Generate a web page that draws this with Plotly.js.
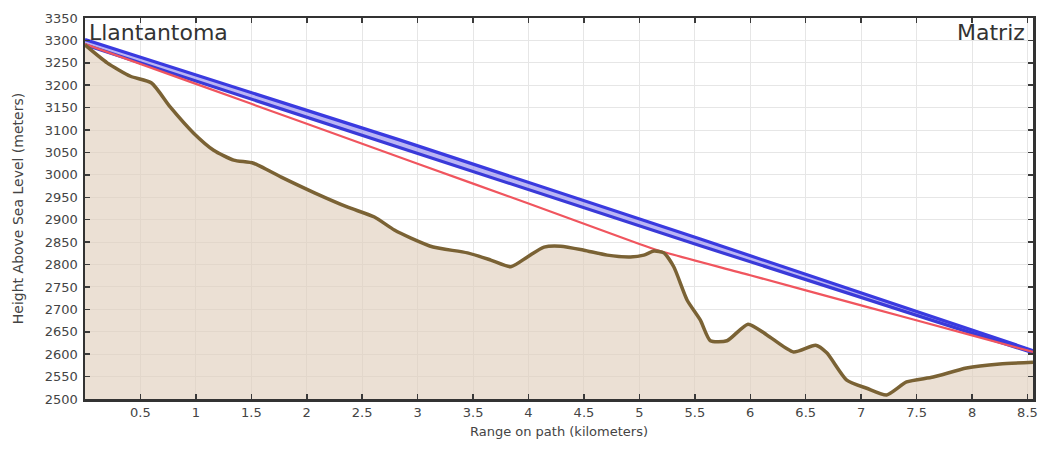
<!DOCTYPE html>
<html>
<head>
<meta charset="utf-8">
<script src="https://cdn.plot.ly/plotly-3.0.1.min.js"></script>
<style>html,body{margin:0;padding:0;background:#fff;}#chart{width:1041px;height:450px;}</style>
</head>
<body>
<div id="chart"></div>
<script>
// Terrain profile (km, meters)
const terrainX = [0, 0.2, 0.41, 0.6, 0.77, 0.98, 1.16, 1.34, 1.52, 1.77, 2.07, 2.37, 2.61, 2.79, 2.94, 3.14, 3.45, 3.66, 3.84, 3.99, 4.14, 4.29, 4.5, 4.71, 4.92, 5.04, 5.13, 5.22, 5.31, 5.43, 5.55, 5.64, 5.79, 5.98, 6.15, 6.39, 6.59, 6.69, 6.87, 7.05, 7.23, 7.41, 7.65, 7.95, 8.25, 8.55];
const terrainY = [3290, 3250, 3220, 3205, 3151, 3093, 3055, 3033, 3026, 2995, 2960, 2928, 2906, 2877, 2859, 2839, 2826, 2810, 2795, 2817, 2839, 2841, 2832, 2821, 2817, 2821, 2830, 2826, 2795, 2721, 2676, 2630, 2630, 2667, 2643, 2605, 2620, 2603, 2542, 2524, 2509, 2538, 2549, 2569, 2578, 2582];
// Line-of-sight band (two blue lines)
const losX = [0, 2.85, 5.55, 8.55];
const losUpper = [3302, 3077, 2857, 2608];
const losLower = [3290, 3060, 2842, 2603];
// Red path
const redX = [0, 1, 2, 3, 4, 5, 5.15, 6, 7, 8, 8.55];
const redY = [3292, 3203, 3114, 3025, 2936, 2846, 2833, 2776, 2709, 2642, 2605];
const xTicks = [0.5, 1, 1.5, 2, 2.5, 3, 3.5, 4, 4.5, 5, 5.5, 6, 6.5, 7, 7.5, 8, 8.5];
const yTicks = [2500, 2550, 2600, 2650, 2700, 2750, 2800, 2850, 2900, 2950, 3000, 3050, 3100, 3150, 3200, 3250, 3300, 3350];
const siteLeft = 'Llantantoma';
const siteRight = 'Matriz';

const FONT = 'DejaVu Sans, Verdana, sans-serif';

const traces = [
  {x: terrainX, y: terrainY, type: 'scatter', mode: 'lines', fill: 'tozeroy',
   fillcolor: 'rgba(222,205,185,0.62)', line: {color: 'rgba(0,0,0,0)', width: 0, shape: 'spline', smoothing: 0.6}, hoverinfo: 'skip'},
  {x: losX, y: losLower, type: 'scatter', mode: 'lines', line: {color: '#3a3ad8', width: 3.2}},
  {x: losX, y: losUpper, type: 'scatter', mode: 'lines', fill: 'tonexty', fillcolor: 'rgba(130,120,235,0.55)', line: {color: '#3a3ae0', width: 3.2}},
  {x: redX, y: redY, type: 'scatter', mode: 'lines', line: {color: '#f0555e', width: 2.2, shape: 'spline', smoothing: 0.8}},
  {x: terrainX, y: terrainY, type: 'scatter', mode: 'lines', line: {color: '#7a6234', width: 3.5, shape: 'spline', smoothing: 0.6}}
];

const axisCommon = {
  showline: true, linecolor: '#333', linewidth: 2.5, mirror: 'ticks',
  ticks: 'inside', ticklen: 5, tickwidth: 1.5, tickcolor: '#3a3a3a',
  showgrid: true, gridcolor: '#e6e6e6', gridwidth: 1, zeroline: false,
  tickfont: {family: FONT, size: 13, color: '#444'}
};

const layout = {
  width: 1041, height: 450,
  margin: {l: 85, r: 8, t: 18, b: 51},
  paper_bgcolor: '#fff', plot_bgcolor: '#fff',
  showlegend: false,
  xaxis: Object.assign({}, axisCommon, {
    range: [0, 8.55], tickvals: xTicks, ticktext: xTicks.map(String),
    title: {text: 'Range on path (kilometers)', font: {family: FONT, size: 13, color: '#444'}, standoff: 8}
  }),
  yaxis: Object.assign({}, axisCommon, {
    range: [2500, 3350], tickvals: yTicks, ticktext: yTicks.map(String),
    ticklabelstandoff: 2,
    title: {text: 'Height Above Sea Level (meters)', font: {family: FONT, size: 14, color: '#444'}, standoff: 18}
  }),
  annotations: [
    {text: siteLeft, xref: 'paper', yref: 'paper', x: 0, y: 1, xanchor: 'left', yanchor: 'top', xshift: 2, yshift: 0,
     showarrow: false, font: {family: FONT, size: 22, color: '#333'}},
    {text: siteRight, xref: 'paper', yref: 'paper', x: 1, y: 1, xanchor: 'right', yanchor: 'top', xshift: -6, yshift: 0,
     showarrow: false, font: {family: FONT, size: 22, color: '#333'}}
  ]
};

Plotly.newPlot('chart', traces, layout, {displayModeBar: false, staticPlot: true});
</script>
</body>
</html>
